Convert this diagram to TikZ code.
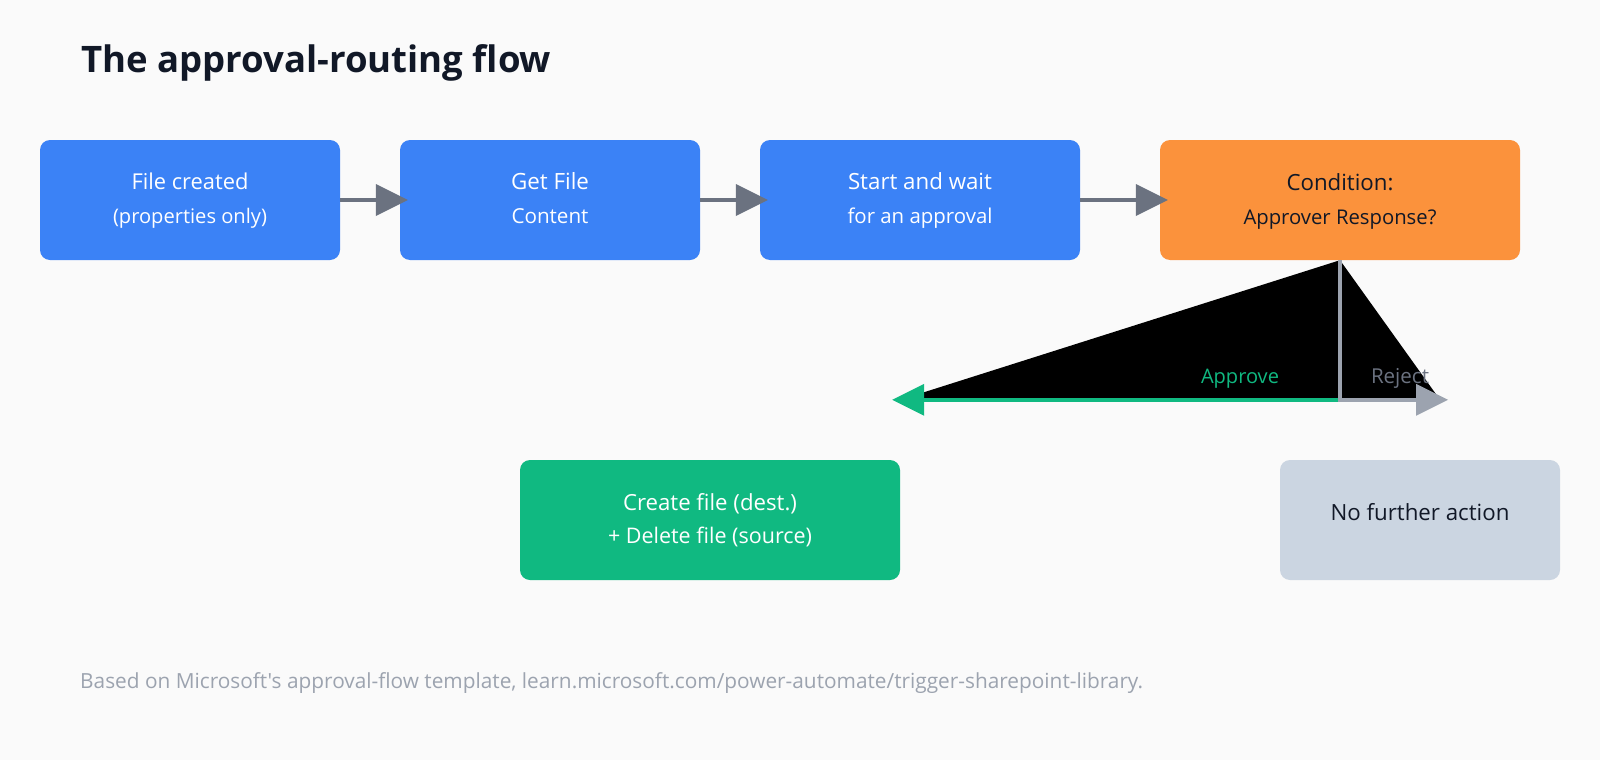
\documentclass[tikz,border=0pt]{standalone}
\usepackage{fontspec}
\setmainfont{Open Sans}[Ligatures=TeXOff]
\usetikzlibrary{arrows.meta,calc}
\definecolor{bg}{HTML}{FAFAFA}
\definecolor{stepblue}{HTML}{3B82F6}
\definecolor{condorange}{HTML}{FB923C}
\definecolor{okgreen}{HTML}{10B981}
\definecolor{idlegray}{HTML}{CBD5E1}
\definecolor{arrowgray}{HTML}{6B7280}
\definecolor{branchgray}{HTML}{9CA3AF}
\definecolor{inkdark}{HTML}{111827}
\newlength\fitlen
\newcommand\fitto[2]{%
  \settowidth\fitlen{\fontsize{10}{12}\selectfont #2}%
  \pgfmathsetmacro\fitfs{10*#1/\fitlen}%
  \fontsize{\fitfs}{\fitfs}\selectfont #2}
\tikzset{
  box/.style={rounded corners=10pt, minimum height=120pt, inner sep=0pt, draw=none},
  flow/.style={line width=4pt, draw=arrowgray,
    -{Triangle[length=32pt,width=32pt,line width=0pt]}, shorten >=-8pt},
  branch/.style={line width=4pt,
    -{Triangle[length=32pt,width=32pt,line width=0pt]}, shorten >=-8pt},
  txt/.style={anchor=base, inner sep=0pt},
}
\begin{document}
\begin{tikzpicture}[x=1pt,y=-1pt]
\fill[bg] (0,0) rectangle (1600,760);
\useasboundingbox (0,0) rectangle (1600,760);

\node[txt, anchor=base west, text=inkdark] (title) at (81,72) {\bfseries\fitto{470}{The approval-routing flow}};

\node[box, fill=stepblue, minimum width=300pt] (b1) at (190,200) {};
\node[box, fill=stepblue, minimum width=300pt] (b2) at (550,200) {};
\node[box, fill=stepblue, minimum width=320pt] (b3) at (920,200) {};
\node[box, fill=condorange, minimum width=360pt] (cond) at (1340,200) {};
\node[box, fill=okgreen, minimum width=380pt] (create) at (710,520) {};
\node[box, fill=idlegray, minimum width=280pt] (nofa) at (1420,520) {};

\node[txt, text=white] (b1a) at (190,189.5) {\fitto{117}{File created}};
\node[txt, text=white] (b1b) at (190,223) {\fitto{154}{(properties only)}};
\node[txt, text=white] (b2a) at (550,189.5) {\fitto{78}{Get File}};
\node[txt, text=white] (b2b) at (550,223) {\fitto{77}{Content}};
\node[txt, text=white] (b3a) at (920,189.5) {\fitto{144}{Start and wait}};
\node[txt, text=white] (b3b) at (920,223) {\fitto{145}{for an approval}};
\node[txt, text=inkdark] (conda) at (1340,190) {\fitto{107}{Condition:}};
\node[txt, text=inkdark] (condb) at (1340,224) {\fitto{193}{Approver Response?}};
\node[txt, text=white] (createa) at (710,510) {\fitto{174}{Create file (dest.)}};
\node[txt, text=white] (createb) at (710,543) {\fitto{204}{+ Delete file (source)}};
\node[txt, text=inkdark] (nofat) at (1420,520) {\fitto{179}{No further action}};

\draw[flow] (b1.east) -- (b2.west);
\draw[flow] (b2.east) -- (b3.west);
\draw[flow] (b3.east) -- (cond.west);

\coordinate (apr) at ($(create.north east)+(0,-60)$);
\coordinate (rej) at ($(nofa.north)+(20,-60)$);
\fill[black] (cond.south) |- (apr) -- cycle;
\draw[branch, draw=okgreen] (cond.south) |- (apr);
\fill[black] (cond.south) |- (rej) -- cycle;
\draw[branch, draw=branchgray] (cond.south) |- (rej);

\node[txt, text=okgreen] (lapr) at (1240,383) {\fitto{78}{Approve}};
\node[txt, text=arrowgray] (lrej) at (1400,383) {\fitto{58}{Reject}};

\node[txt, anchor=base west, text=branchgray] (foot) at (80,688) {\fitto{1063}{Based on Microsoft's approval-flow template, learn.microsoft.com/power-automate/trigger-sharepoint-library.}};
\end{tikzpicture}
\end{document}
